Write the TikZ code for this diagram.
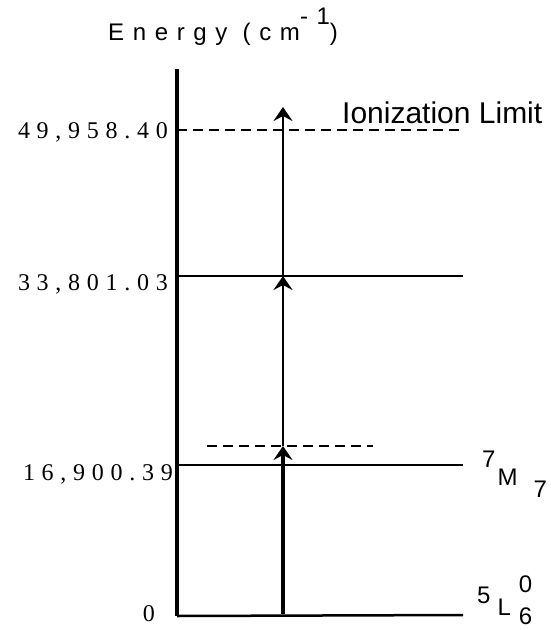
\documentclass[tikz,border=0pt]{standalone}
\usepackage{fontspec}
\setmainfont{Liberation Serif}
\setsansfont{Liberation Sans}
\usetikzlibrary{arrows.meta,positioning}

\tikzset{
  level/.style={line width=2.5pt},
  limit/.style={line width=2.5pt,dash pattern=on 10pt off 6pt},
  excite/.style={-{Stealth[length=14pt,width=19pt,inset=5pt]},line width=2.8pt},
  ticklabel/.style={inner sep=0pt,anchor=base east,
    font=\rmfamily\fontsize{24}{24}\selectfont\addfontfeature{LetterSpace=28}},
  termlabel/.style={inner sep=0pt,anchor=base west,font=\sffamily\fontsize{24}{24}\selectfont}
}

\begin{document}
\begin{tikzpicture}[x=1pt,y=-1pt]
\useasboundingbox (0,0) rectangle (551,630);
% axis and levels
\coordinate (axtop) at (177,69);
\coordinate (axbot) at (177,616);
\coordinate (gsR) at (463,615);
\coordinate (mL) at (177,465);
\coordinate (mR) at (463,465);
\coordinate (xL) at (177,276);
\coordinate (xR) at (463,276);
\coordinate (ipL) at (177,130);
\coordinate (ipR) at (463,130);
\coordinate (vL) at (207,446);
\coordinate (vR) at (373,446);
\draw[line width=3.5pt] (axtop) -- (axbot);
\draw[level] (axbot) -- (gsR);
\draw[level] (mL) -- (mR);
\draw[level] (xL) -- (xR);
\draw[limit] (ipL) -- (ipR);
\draw[limit] (vL) -- (vR);
% excitation path
\coordinate (a0) at (283,614);
\coordinate (a1) at (283,446);
\coordinate (a2) at (283,276);
\coordinate (a3) at (283,107);
\draw[excite,line width=3.5pt] (a0) -- (a1);
\draw[excite] (a1) -- (a2);
\draw[excite] (a2) -- (a3);
% labels
\node[inner sep=0pt,anchor=base west,
  font=\sffamily\fontsize{24}{24}\selectfont\addfontfeature{LetterSpace=36}]
  (title) at (108,40) {Energy (cm\raisebox{16pt}{-1})};
\node[ticklabel] (t3) at (168,138) {49,958.40};
\node[ticklabel] (t2) at (168,290) {33,801.03};
\node[ticklabel] (t1) at (173,480) {16,900.39};
\node[ticklabel] (t0) at (155,621) {0};
\node[inner sep=0pt,anchor=base west,font=\sffamily\fontsize{30}{30}\selectfont]
  (ion) at (342,123) {Ionization Limit};
\node[termlabel] (mterm) at (482,485)
  {\raisebox{18pt}{7}\hspace{2pt}M\hspace{16pt}\raisebox{-12pt}{7}};
\node[termlabel] (lterm) at (477,615)
  {\raisebox{12pt}{5}\hspace{7pt}L\hspace{8pt}\raisebox{23pt}{\rlap{0}}\raisebox{-9pt}{6}};
\end{tikzpicture}
\end{document}
